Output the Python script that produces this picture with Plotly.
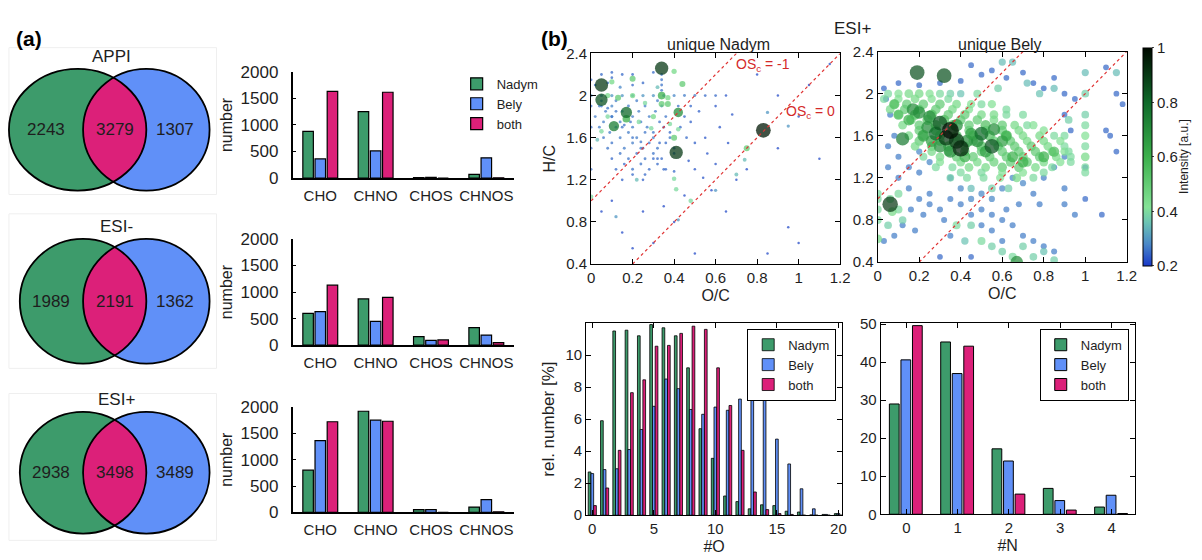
import numpy as np
import plotly.graph_objects as go

W, H = 1202, 560
FONT = "Arial, Liberation Sans, Helvetica, sans-serif"
TXT = "#1e1e1e"
GREEN, BLUE, PINK = "#3d9b6b", "#6090f8", "#dc2079"

# ---------------- data: Venn diagrams (a) ----------------
venn_titles = ["APPI", "ESI-", "ESI+"]
venn_only_nadym = [2243, 1989, 2938]
venn_both = [3279, 2191, 3498]
venn_only_bely = [1307, 1362, 3489]

# ---------------- data: compound classes (a) ----------------
classes = ["CHO", "CHNO", "CHOS", "CHNOS"]
appi_nadym = [880, 1250, 10, 70]
appi_bely = [360, 510, 15, 380]
appi_both = [1630, 1615, 0, 5]
esin_nadym = [600, 870, 160, 330]
esin_bely = [630, 450, 90, 190]
esin_both = [1130, 900, 100, 50]
esip_nadym = [800, 1920, 50, 100]
esip_bely = [1360, 1750, 50, 240]
esip_both = [1720, 1730, 0, 10]

# ---------------- data: #O distribution (b) ----------------
o_count = list(range(21))
o_nadym = [2.7, 5.9, 11.5, 11.55, 11.2, 11.9, 11.7, 11.2, 9.2, 5.4, 3.55, 1.2, 0.85, 0.4, 0.65, 0.6, 0.25, 0.2, 0.02, 0.05, 0.1]
o_bely = [2.6, 2.85, 2.9, 4.1, 5.35, 6.8, 8.5, 7.9, 6.6, 6.3, 6.75, 6.55, 7.25, 8.4, 7.2, 4.75, 3.2, 1.65, 0.4, 0.05, 0.1]
o_both = [0.6, 1.7, 4.05, 7.65, 8.45, 10.55, 10.6, 11.35, 11.8, 11.6, 9.2, 6.85, 4.05, 1.45, 0.35, 0.1, 0.05, 0.0, 0.0, 0.0, 0.0]

# ---------------- data: #N distribution (b) ----------------
n_count = [0, 1, 2, 3, 4]
n_nadym = [29.0, 45.3, 17.2, 6.8, 1.9]
n_bely = [40.6, 37.0, 14.0, 3.6, 5.0]
n_both = [49.6, 44.2, 5.3, 1.1, 0.2]

# ---------------- data: van Krevelen points (O/C, H/C, intensity) ----------------
nadym_low = [
    (0.05, 2.2, .25), (0.1, 2.22, .25), (0.15, 2.2, .25), (0.02, 2.1, .25), (0.08, 2.12, .25), (0.14, 2.08, .28), (0.2, 2.1, .25), (0.25, 2.12, .25),
    (0.0, 2.15, .25), (0.1, 2.17, .25), (0.2, 2.2, .25), (0.3, 2.22, .25),
    (0.0, 2.0, .3), (0.05, 2.0, .28), (0.1, 2.0, .3), (0.15, 2.0, .3), (0.2, 2.0, .28), (0.25, 2.0, .3), (0.3, 2.0, .3), (0.35, 2.0, .28),
    (0.4, 2.0, .28), (0.45, 2.0, .27), (0.5, 2.0, .27), (0.55, 2.0, .25), (0.6, 2.0, .25),
    (0.34, 2.05, .26), (0.34, 2.1, .26), (0.34, 2.15, .26), (0.34, 2.2, .26),
    (0.12, 1.95, .27), (0.22, 1.95, .27), (0.32, 1.95, .27),
    (0.04, 1.9, .27), (0.1, 1.9, .28), (0.18, 1.9, .27), (0.26, 1.9, .27), (0.34, 1.9, .27), (0.42, 1.9, .26), (0.48, 1.9, .25),
    (0.07, 1.85, .27), (0.15, 1.85, .27), (0.23, 1.85, .27), (0.31, 1.85, .27),
    (0.02, 1.8, .27), (0.1, 1.8, .28), (0.2, 1.8, .27), (0.28, 1.8, .27), (0.36, 1.8, .26), (0.45, 1.8, .25),
    (0.06, 1.75, .27), (0.14, 1.75, .27), (0.24, 1.75, .27), (0.33, 1.75, .26),
    (0.04, 1.7, .27), (0.12, 1.7, .27), (0.2, 1.7, .27), (0.27, 1.7, .27), (0.35, 1.7, .26), (0.43, 1.7, .25),
    (0.09, 1.65, .27), (0.18, 1.65, .27), (0.3, 1.65, .26), (0.38, 1.65, .25),
    (0.06, 1.6, .26), (0.14, 1.6, .27), (0.22, 1.6, .27), (0.3, 1.6, .27), (0.38, 1.6, .26), (0.46, 1.6, .25),
    (0.1, 1.55, .26), (0.2, 1.55, .27), (0.28, 1.55, .26), (0.36, 1.55, .25),
    (0.08, 1.5, .26), (0.16, 1.5, .27), (0.24, 1.5, .27), (0.32, 1.5, .26), (0.4, 1.5, .25),
    (0.14, 1.45, .26), (0.22, 1.45, .26), (0.3, 1.45, .26),
    (0.1, 1.4, .25), (0.18, 1.4, .26), (0.26, 1.4, .26), (0.34, 1.4, .25),
    (0.16, 1.35, .25), (0.24, 1.35, .26), (0.32, 1.35, .25),
    (0.12, 1.3, .25), (0.2, 1.3, .26), (0.28, 1.3, .25), (0.36, 1.3, .25),
    (0.2, 1.25, .25), (0.26, 1.25, .25), (0.15, 1.2, .24), (0.25, 1.2, .24),
    (0.05, 1.9, .26), (0.1, 1.8, .26), (0.15, 1.7, .26), (0.2, 1.6, .26), (0.25, 1.5, .26), (0.3, 1.4, .25), (0.35, 1.3, .25),
    (0.05, 1.95, .26), (0.12, 1.85, .26), (0.19, 1.75, .26), (0.26, 1.65, .26), (0.33, 1.55, .25), (0.4, 1.45, .25),
    (0.08, 1.88, .26), (0.16, 1.72, .26), (0.24, 1.56, .26), (0.32, 1.4, .25), (0.4, 1.28, .25),
    (0.48, 1.75, .24), (0.52, 1.85, .24), (0.5, 1.55, .24), (0.56, 1.45, .23), (0.62, 1.7, .23), (0.66, 1.55, .23),
    (0.68, 1.82, .23), (0.6, 1.35, .23), (0.54, 1.22, .23), (0.47, 1.38, .23),
    (0.0, 1.3, .25), (0.0, 1.5, .25), (0.0, 1.7, .25), (0.0, 1.9, .25),
    (0.5, 1.3, .23), (0.55, 1.6, .23), (0.6, 1.9, .23), (0.65, 2.0, .23), (0.7, 1.2, .22), (0.58, 1.1, .22),
    (0.35, 0.95, .22), (0.25, 0.9, .22), (0.15, 0.7, .22), (0.3, 0.6, .22), (0.2, 0.55, .22), (0.8, 2.2, .22),
    (0.9, 2.0, .22), (1.0, 1.8, .22), (1.05, 2.1, .22), (0.9, 1.5, .22), (0.75, 1.3, .22), (0.65, 0.9, .22),
    (1.0, 0.6, .22), (0.95, 0.75, .22), (0.4, 0.8, .22), (1.1, 1.4, .22), (1.15, 2.3, .22), (0.85, 0.5, .22),
    (0.5, 0.5, .22), (0.1, 1.0, .22), (0.05, 0.9, .22), (0.45, 1.05, .22),
]
nadym_high = [
    (0.0, 1.04, .4), (0.03, 1.58, .35), (0.05, 1.66, .4), (0.08, 1.8, .4), (0.08, 2.0, .45), (0.1, 2.13, .45),
    (0.13, 1.98, .5), (0.2, 2.0, .45), (0.26, 1.93, .4), (0.23, 1.75, .4), (0.3, 1.8, .45), (0.29, 1.69, .4),
    (0.38, 1.73, .4), (0.42, 1.68, .4), (0.22, 1.2, .35), (0.32, 2.08, .35), (0.7, 1.25, .35), (0.6, 1.1, .3),
    (0.42, 0.82, .3), (0.12, 0.85, .3), (0.85, 1.84, .3), (0.95, 1.71, .3), (0.74, 1.39, .35), (0.75, 1.5, .5),
    (0.48, 1.0, .4), (0.41, 1.11, .4), (0.4, 1.21, .4), (0.4, 1.6, .5), (0.34, 1.92, .5), (0.37, 1.92, .5),
    (0.37, 1.98, .45), (0.44, 2.11, .5), (0.4, 2.23, .45), (0.2, 2.16, .5), (0.34, 2.0, .6), (0.42, 1.84, .7),
    (0.17, 1.78, .6), (0.11, 1.71, .75), (0.17, 1.84, .8), (0.05, 1.96, .85), (0.05, 2.1, .9),
    (0.41, 1.46, .9), (0.34, 2.26, .9), (0.83, 1.67, .97),
]
bely_low = [
    (0.03, 2.05, .25), (0.1, 2.1, .25), (0.2, 2.08, .25), (0.3, 2.1, .25), (0.4, 2.12, .25), (0.5, 2.18, .25),
    (0.45, 2.27, .25), (0.55, 2.22, .25), (0.62, 2.15, .25), (0.7, 2.2, .25), (0.75, 2.1, .25), (0.8, 2.05, .25),
    (0.85, 2.15, .25), (0.9, 2.0, .25), (0.95, 1.95, .25), (1.1, 2.25, .25), (1.15, 2.0, .25), (1.18, 1.9, .25),
    (1.1, 1.65, .25), (1.12, 1.6, .25), (1.15, 1.45, .25), (1.08, 0.85, .25), (1.0, 1.3, .25), (0.93, 1.65, .25),
    (0.9, 1.8, .25), (0.05, 1.3, .27), (0.1, 1.2, .27), (0.15, 1.1, .27), (0.2, 1.0, .27), (0.25, 0.95, .27),
    (0.3, 0.9, .27), (0.12, 0.75, .27), (0.18, 0.7, .27), (0.08, 0.65, .27), (0.03, 0.6, .27), (0.35, 1.2, .28),
    (0.4, 1.1, .28), (0.45, 1.0, .28), (0.5, 1.05, .28), (0.55, 1.0, .28), (0.6, 1.1, .28), (0.65, 1.2, .28),
    (0.7, 1.15, .28), (0.75, 1.05, .27), (0.5, 0.9, .27), (0.55, 0.85, .27), (0.6, 0.8, .27), (0.65, 0.75, .27),
    (0.7, 0.65, .27), (0.75, 0.6, .27), (0.8, 0.55, .27), (0.85, 0.5, .27), (0.6, 0.6, .27), (0.55, 0.7, .27),
    (0.5, 0.75, .27), (0.45, 0.85, .27), (0.4, 0.95, .27), (0.3, 0.45, .25), (0.45, 0.45, .25), (0.25, 1.05, .27),
    (0.35, 1.0, .27), (0.15, 1.3, .27), (0.2, 1.25, .27), (0.1, 1.4, .27), (0.05, 1.5, .27), (0.08, 1.6, .27),
    (0.06, 1.8, .27), (0.04, 1.95, .27), (0.85, 1.3, .27), (0.9, 1.4, .27), (0.8, 1.2, .27), (0.9, 1.1, .27),
    (0.9, 0.95, .27), (0.95, 0.85, .27), (0.78, 0.95, .27), (0.68, 0.95, .27), (0.62, 0.9, .27), (0.35, 0.65, .27),
    (0.32, 0.8, .27), (0.22, 0.85, .27), (0.16, 0.9, .27), (1.0, 1.0, .25), (0.2, 1.45, .28), (0.25, 1.35, .28),
]
bely_mid = [
    (0.05, 2.0, .4), (0.1, 2.0, .42), (0.15, 2.0, .45), (0.2, 2.0, .45), (0.25, 2.0, .42), (0.3, 2.0, .4), (0.35, 2.0, .38), (0.4, 2.0, .36),
    (0.03, 1.95, .4), (0.1, 1.95, .42), (0.18, 1.95, .45), (0.26, 1.95, .42), (0.34, 1.95, .4),
    (0.08, 1.9, .45), (0.14, 1.9, .5), (0.22, 1.9, .5), (0.3, 1.9, .5), (0.38, 1.9, .45), (0.45, 1.9, .42), (0.5, 1.9, .4),
    (0.06, 1.85, .45), (0.13, 1.85, .5), (0.2, 1.85, .5), (0.28, 1.85, .5), (0.36, 1.85, .45), (0.44, 1.85, .42),
    (0.1, 1.8, .45), (0.18, 1.8, .55), (0.26, 1.8, .55), (0.34, 1.8, .5), (0.42, 1.8, .5), (0.5, 1.8, .45), (0.56, 1.8, .45), (0.62, 1.8, .4),
    (0.16, 1.75, .5), (0.24, 1.75, .55), (0.32, 1.75, .55), (0.4, 1.75, .5), (0.48, 1.75, .5), (0.56, 1.75, .45),
    (0.12, 1.7, .45), (0.2, 1.7, .5), (0.28, 1.7, .55), (0.36, 1.7, .55), (0.44, 1.7, .5), (0.52, 1.7, .55), (0.6, 1.7, .5), (0.66, 1.7, .45), (0.72, 1.7, .4),
    (0.2, 1.65, .5), (0.28, 1.65, .55), (0.36, 1.65, .5), (0.44, 1.65, .5), (0.52, 1.65, .5), (0.6, 1.65, .5), (0.68, 1.65, .45),
    (0.15, 1.6, .45), (0.22, 1.6, .5), (0.3, 1.6, .55), (0.38, 1.6, .55), (0.46, 1.6, .55), (0.54, 1.6, .55), (0.62, 1.6, .5), (0.7, 1.6, .45), (0.78, 1.6, .45), (0.85, 1.6, .4),
    (0.2, 1.55, .5), (0.3, 1.55, .5), (0.38, 1.55, .5), (0.46, 1.55, .5), (0.56, 1.55, .5), (0.64, 1.55, .5), (0.72, 1.55, .45), (0.8, 1.55, .45),
    (0.18, 1.5, .45), (0.26, 1.5, .5), (0.34, 1.5, .55), (0.42, 1.5, .5), (0.5, 1.5, .55), (0.58, 1.5, .5), (0.66, 1.5, .5), (0.74, 1.5, .5), (0.82, 1.5, .45), (0.9, 1.5, .4),
    (0.26, 1.45, .45), (0.34, 1.45, .5), (0.42, 1.45, .5), (0.5, 1.45, .5), (0.6, 1.45, .5), (0.68, 1.45, .5), (0.76, 1.45, .5), (0.84, 1.45, .45), (0.9, 1.45, .42),
    (0.22, 1.4, .4), (0.3, 1.4, .45), (0.38, 1.4, .5), (0.46, 1.4, .5), (0.54, 1.4, .5), (0.62, 1.4, .5), (0.7, 1.4, .5), (0.78, 1.4, .5), (0.86, 1.4, .45), (0.93, 1.4, .4),
    (0.3, 1.35, .42), (0.4, 1.35, .45), (0.48, 1.35, .45), (0.56, 1.35, .48), (0.64, 1.35, .5), (0.72, 1.35, .5), (0.8, 1.35, .45), (0.88, 1.35, .42),
    (0.28, 1.3, .4), (0.36, 1.3, .4), (0.44, 1.3, .45), (0.52, 1.3, .45), (0.6, 1.3, .5), (0.68, 1.3, .5), (0.76, 1.3, .45), (0.84, 1.3, .4),
    (0.4, 1.25, .4), (0.5, 1.25, .4), (0.6, 1.25, .42), (0.7, 1.25, .42), (0.8, 1.25, .4),
    (0.35, 1.2, .38), (0.43, 1.2, .4), (0.51, 1.2, .4), (0.59, 1.2, .42), (0.67, 1.2, .45), (0.75, 1.2, .4),
    (0.45, 1.1, .35), (0.55, 1.1, .38), (0.63, 1.1, .38),
    (1.0, 1.25, .4), (1.0, 1.3, .4), (1.0, 1.4, .45), (1.0, 1.5, .4), (1.0, 1.6, .42), (1.0, 1.7, .4), (1.0, 1.8, .38), (1.0, 2.0, .38), (1.0, 2.2, .35),
    (0.0, 0.62, .45), (0.0, 0.8, .4), (0.0, 0.9, .4), (0.0, 1.0, .4), (0.0, 1.05, .4), (0.06, 1.0, .4), (0.1, 0.9, .4),
    (0.1, 1.05, .4), (0.12, 0.8, .38), (0.05, 0.75, .38), (0.07, 0.88, .45),
    (0.5, 0.6, .4), (0.55, 0.55, .38), (0.6, 0.5, .38), (0.65, 0.45, .4), (0.7, 0.55, .38), (0.75, 0.45, .38),
    (0.8, 0.5, .36), (0.85, 0.42, .38), (0.42, 0.6, .36), (0.38, 0.75, .4), (0.45, 0.75, .38),
    (0.6, 2.3, .35), (0.65, 2.3, .35), (0.72, 2.1, .35), (0.78, 2.0, .36), (0.85, 2.05, .35), (0.92, 1.75, .38),
    (0.9, 1.6, .4), (1.15, 2.2, .35), (0.58, 2.05, .38), (0.48, 2.0, .4), (0.55, 1.9, .42), (0.62, 1.85, .4),
    (0.7, 1.8, .4), (0.75, 1.7, .42), (0.8, 1.65, .42), (0.88, 1.55, .42), (0.92, 1.45, .4), (0.93, 1.35, .4),
]
bely_high = [
    (0.19, 2.2, .85), (0.32, 2.17, .85), (0.06, 0.95, .9), (0.12, 1.57, .75), (0.3, 1.5, .7), (0.26, 1.55, .65),
    (0.24, 1.68, .7), (0.22, 1.6, .65), (0.35, 1.45, .7), (0.42, 1.4, .6), (0.65, 1.4, .6), (0.7, 1.35, .6),
    (0.8, 1.4, .6), (0.85, 1.45, .55), (0.62, 1.6, .6), (0.52, 1.45, .65), (0.15, 1.75, .6), (0.1, 1.8, .55),
    (0.08, 1.9, .55), (0.38, 1.7, .7), (0.43, 1.55, .7), (0.17, 1.85, .7), (0.2, 1.82, .7), (0.25, 1.78, .7),
    (0.48, 1.55, .7), (0.45, 1.62, .65), (0.6, 1.55, .65), (0.56, 1.66, .7), (0.5, 1.62, .8), (0.55, 1.5, .85),
    (0.67, 0.4, .7), (0.28, 1.62, .8), (0.3, 1.72, .85), (0.33, 1.58, .9), (0.38, 1.55, .9), (0.4, 1.48, .95),
    (0.35, 1.65, 1.0),
]

# ---------------- helpers ----------------
def xd(a, b):
    return [a / W, b / W]


def yd(top, bot):
    return [1 - bot / H, 1 - top / H]


def ell(e, t):
    return e[0] + e[2] * np.cos(t), e[1] + e[3] * np.sin(t)


def lens_path(e1, e2):
    t1 = np.linspace(-np.pi, np.pi, 721)
    x1, y1 = ell(e1, t1)
    in2 = ((x1 - e2[0]) / e2[2]) ** 2 + ((y1 - e2[1]) / e2[3]) ** 2 <= 1
    t2 = np.linspace(0, 2 * np.pi, 721)
    x2, y2 = ell(e2, t2)
    in1 = ((x2 - e1[0]) / e1[2]) ** 2 + ((y2 - e1[1]) / e1[3]) ** 2 <= 1
    xs = np.concatenate([x1[in2], x2[in1]])
    ys = np.concatenate([y1[in2], y2[in1]])
    return "M " + " L ".join(f"{a:.2f},{b:.2f}" for a, b in zip(xs, ys)) + " Z"


fig = go.Figure()
shapes, annos = [], []

# ---------------- Venn diagrams ----------------
venn_geo = [
    ((74.5, 125, 69.5, 63), (144, 125, 64, 63), (5, 40, 215, 192)),
    ((80, 302.5, 64, 64.5), (144, 302.5, 64, 64.5), (5, 212, 215, 372)),
    ((80, 480, 64, 63), (144, 480, 64, 63), (5, 398, 215, 550)),
]
fig.add_trace(go.Scatter(x=[], y=[], xaxis="x8", yaxis="y8", showlegend=False, hoverinfo="skip"))
for i, (e1, e2, box) in enumerate(venn_geo):
    shapes.append(dict(type="rect", xref="x8", yref="y8", x0=box[0], y0=box[1], x1=box[2], y1=box[3],
                       line=dict(color="#efefef", width=1), fillcolor="rgba(0,0,0,0)"))
    for e, col in ((e1, GREEN), (e2, BLUE)):
        shapes.append(dict(type="circle", xref="x8", yref="y8", x0=e[0] - e[2], x1=e[0] + e[2],
                           y0=e[1] - e[3], y1=e[1] + e[3], fillcolor=col, line=dict(width=0)))
    shapes.append(dict(type="path", xref="x8", yref="y8", path=lens_path(e1, e2), fillcolor=PINK, line=dict(width=0)))
    for e in (e1, e2):
        shapes.append(dict(type="circle", xref="x8", yref="y8", x0=e[0] - e[2], x1=e[0] + e[2],
                           y0=e[1] - e[3], y1=e[1] + e[3], fillcolor="rgba(0,0,0,0)",
                           line=dict(color="black", width=1.8)))
    l1, r1 = e1[0] - e1[2], e1[0] + e1[2]
    l2, r2 = e2[0] - e2[2], e2[0] + e2[2]
    cy = e1[1]
    for xx, val in (((l1 + l2) / 2, venn_only_nadym[i]), ((l2 + r1) / 2, venn_both[i]), ((r1 + r2) / 2 - 3, venn_only_bely[i])):
        annos.append(dict(xref="x8", yref="y8", x=xx, y=cy, text=str(val), showarrow=False,
                          font=dict(size=17, color=TXT), xanchor="center", yanchor="middle"))
    annos.append(dict(xref="x8", yref="y8", x=(l1 + r2) / 2 + 2, y=e1[1] - e1[3] - 1, text=venn_titles[i],
                      showarrow=False, font=dict(size=17, color=TXT), yanchor="bottom"))

# ---------------- class bar charts (a) ----------------
class_sets = [
    (appi_nadym, appi_bely, appi_both, (65, 175)),
    (esin_nadym, esin_bely, esin_both, (238, 348)),
    (esip_nadym, esip_bely, esip_both, (412, 521)),
]
layout_axes = {}
cls_idx = list(range(len(classes)))
for i, (vn, vb, vbo, (yt, yb)) in enumerate(class_sets):
    k = i + 1
    for vals, col, name, off in ((vn, GREEN, "Nadym", -0.315), (vb, BLUE, "Bely", -0.095), (vbo, PINK, "both", 0.125)):
        fig.add_trace(go.Bar(x=cls_idx, y=vals, width=0.19, offset=off, name=name,
                             marker=dict(color=col, line=dict(color="black", width=1.2)),
                             xaxis=f"x{k}", yaxis=f"y{k}", showlegend=(i == 0), legend="legend"))
    layout_axes[f"xaxis{k}"] = dict(domain=xd(292, 516), anchor=f"y{k}", range=[-0.5, 3.5],
                                    tickvals=cls_idx, ticktext=classes, showline=True, linecolor="black",
                                    linewidth=1.5, ticks="", showgrid=False, zeroline=False,
                                    tickfont=dict(size=15), ticklabelstandoff=3)
    layout_axes[f"yaxis{k}"] = dict(domain=yd(yt, yb), anchor=f"x{k}", range=[0, 2000],
                                    tickvals=[0, 500, 1000, 1500, 2000], showline=True, linecolor="black",
                                    linewidth=1.5, ticks="inside", ticklen=4, tickcolor="black",
                                    showgrid=False, zeroline=False, tickfont=dict(size=17),
                                    ticklabelstandoff=9,
                                    title=dict(text="number", font=dict(size=16), standoff=4))

# ---------------- van Krevelen scatter (b) ----------------
CSCALE = [[0.0, "#1838c8"], [0.1, "#4a88c8"], [0.2, "#6cc4b4"], [0.27, "#84e296"],
          [0.5, "#3cb04c"], [0.75, "#0f6a2a"], [1.0, "#000a00"]]


def unpack(*groups):
    pts = [p for g in groups for p in g]
    return [p[0] for p in pts], [p[1] for p in pts], [p[2] for p in pts]


n_oc, n_hc, n_int = unpack(nadym_low, nadym_high)
b_oc, b_hc, b_int = unpack(bely_low, bely_mid, bely_high)
n_size = [2.4 + 13 * ((v - 0.2) / 0.8) ** 1.3 for v in n_int]
b_size = [5 + 12 * ((v - 0.2) / 0.8) for v in b_int]

fig.add_trace(go.Scatter(x=n_oc, y=n_hc, mode="markers", xaxis="x4", yaxis="y4", showlegend=False,
                         marker=dict(color=n_int, colorscale=CSCALE, cmin=0.2, cmax=1, size=n_size,
                                     opacity=0.75, line=dict(width=0), showscale=False)))
fig.add_trace(go.Scatter(x=b_oc, y=b_hc, mode="markers", xaxis="x5", yaxis="y5", showlegend=False,
                         marker=dict(color=b_int, colorscale=CSCALE, cmin=0.2, cmax=1, size=b_size,
                                     opacity=0.72, line=dict(width=0), showscale=True,
                                     colorbar=dict(x=1152 / W, xanchor="left", xpad=0, thickness=9,
                                                   len=218, lenmode="pixels", y=1 - 153 / H, yanchor="middle",
                                                   ypad=0, tickvals=[0.2, 0.4, 0.6, 0.8, 1],
                                                   ticks="outside", ticklen=2, outlinecolor="black",
                                                   outlinewidth=1, tickfont=dict(size=15, color=TXT)))))

os_levels = [-1, 0]
for ax in ("4", "5"):
    for os_ in os_levels:
        x_lo = max(0.0, (0.4 + os_) / 2)
        x_hi = min(1.2, (2.4 + os_) / 2)
        xs = [x_lo, x_hi]
        ys = [2 * v - os_ for v in xs]
        fig.add_trace(go.Scatter(x=xs, y=ys, mode="lines", xaxis=f"x{ax}", yaxis=f"y{ax}", showlegend=False,
                                 line=dict(color="#e03434", width=1.2, dash="dot"), hoverinfo="skip"))

box_axis = dict(showline=True, linecolor="black", linewidth=1, mirror="ticks", ticks="inside", ticklen=5,
                tickcolor="black", showgrid=False, zeroline=False, tickfont=dict(size=15))
layout_axes["xaxis4"] = dict(box_axis, domain=xd(594, 846), anchor="y4", range=[0, 1.2], dtick=0.2,
                             title=dict(text="O/C", font=dict(size=16), standoff=4))
layout_axes["yaxis4"] = dict(box_axis, domain=yd(46, 264), anchor="x4", range=[0.4, 2.4], dtick=0.4,
                             title=dict(text="H/C", font=dict(size=16), standoff=6))
layout_axes["xaxis5"] = dict(box_axis, domain=xd(884, 1136), anchor="y5", range=[0, 1.2], dtick=0.2,
                             title=dict(text="O/C", font=dict(size=16), standoff=4))
layout_axes["yaxis5"] = dict(box_axis, domain=yd(44, 262), anchor="x5", range=[0.4, 2.4], dtick=0.4)

annos.append(dict(xref="x4", yref="y4", x=0.69, y=2.29, text="OS<sub>c</sub> = -1", showarrow=False,
                  xanchor="left", font=dict(size=14, color="#d42a2a")))
annos.append(dict(xref="x4", yref="y4", x=0.93, y=1.84, text="OS<sub>c</sub> = 0", showarrow=False,
                  xanchor="left", font=dict(size=14, color="#d42a2a")))

# ---------------- #O and #N distributions ----------------
for vals, col, name, off in ((o_nadym, GREEN, "Nadym", -0.33), (o_bely, BLUE, "Bely", -0.11), (o_both, PINK, "both", 0.11)):
    fig.add_trace(go.Bar(x=o_count, y=vals, width=0.22, offset=off, name=name, xaxis="x6", yaxis="y6",
                         marker=dict(color=col, line=dict(color="black", width=0.8)), legend="legend2"))
for vals, col, name, off in ((n_nadym, GREEN, "Nadym", -0.33), (n_bely, BLUE, "Bely", -0.105), (n_both, PINK, "both", 0.12)):
    fig.add_trace(go.Bar(x=n_count, y=vals, width=0.19, offset=off, name=name, xaxis="x7", yaxis="y7",
                         marker=dict(color=col, line=dict(color="black", width=1)), legend="legend3"))

layout_axes["xaxis6"] = dict(box_axis, domain=xd(589, 848), anchor="y6", range=[-0.5, 20.3],
                             tickvals=[0, 5, 10, 15, 20], title=dict(text="#O", font=dict(size=16), standoff=4))
layout_axes["yaxis6"] = dict(box_axis, domain=yd(325, 524), anchor="x6", range=[0, 12],
                             tickvals=[0, 2, 4, 6, 8, 10],
                             title=dict(text="rel. number [%]", font=dict(size=17), standoff=6))
layout_axes["xaxis7"] = dict(box_axis, domain=xd(887, 1144), anchor="y7", range=[-0.5, 4.45],
                             tickvals=[0, 1, 2, 3, 4], title=dict(text="#N", font=dict(size=16), standoff=4))
layout_axes["yaxis7"] = dict(box_axis, domain=yd(325, 523), anchor="x7", range=[0, 50.3],
                             tickvals=[0, 10, 20, 30, 40, 50])

layout_axes["xaxis8"] = dict(domain=[0, 1], range=[0, W], visible=False, anchor="y8", fixedrange=True)
layout_axes["yaxis8"] = dict(domain=[0, 1], range=[H, 0], visible=False, anchor="x8", fixedrange=True)

# ---------------- labels ----------------
annos += [
    dict(xref="paper", yref="paper", x=10 / W, y=1 - 31 / H, text="<b>(a)</b>", showarrow=False,
         xanchor="left", yanchor="middle", font=dict(size=21, color="black")),
    dict(xref="paper", yref="paper", x=541 / W, y=1 - 31 / H, text="<b>(b)</b>", showarrow=False,
         xanchor="left", yanchor="middle", font=dict(size=21, color="black")),
    dict(xref="paper", yref="paper", x=858 / W, y=1 - 20 / H, text="ESI+", showarrow=False,
         xanchor="center", yanchor="middle", font=dict(size=17, color=TXT)),
    dict(xref="paper", yref="paper", x=723 / W, y=1 - 37 / H, text="unique Nadym", showarrow=False,
         xanchor="center", yanchor="middle", font=dict(size=16, color=TXT)),
    dict(xref="paper", yref="paper", x=1008 / W, y=1 - 37 / H, text="unique Bely", showarrow=False,
         xanchor="center", yanchor="middle", font=dict(size=16, color=TXT)),
    dict(xref="paper", yref="paper", x=1194 / W, y=1 - 153 / H, text="Intensity [a.u.]", showarrow=False,
         textangle=-90, xanchor="center", yanchor="middle", font=dict(size=12, color=TXT)),
]

fig.update_layout(
    width=W, height=H, margin=dict(l=0, r=0, t=0, b=0),
    paper_bgcolor="white", plot_bgcolor="rgba(0,0,0,0)",
    font=dict(family=FONT, color=TXT, size=15),
    barmode="overlay", shapes=shapes, annotations=annos,
    legend=dict(x=458 / W, y=1 - 62 / H, xanchor="left", yanchor="top", bgcolor="rgba(0,0,0,0)",
                font=dict(size=13), itemwidth=30, tracegroupgap=0),
    legend2=dict(x=842 / W, y=1 - 331 / H, xanchor="right", yanchor="top", bgcolor="white",
                 bordercolor="black", borderwidth=1, font=dict(size=13), itemwidth=30),
    legend3=dict(x=1138 / W, y=1 - 331 / H, xanchor="right", yanchor="top", bgcolor="white",
                 bordercolor="black", borderwidth=1, font=dict(size=13), itemwidth=30),
    **layout_axes,
)

fig.write_html("out.html", config={"displayModeBar": False},
               post_script="document.body.style.margin='0px';")
